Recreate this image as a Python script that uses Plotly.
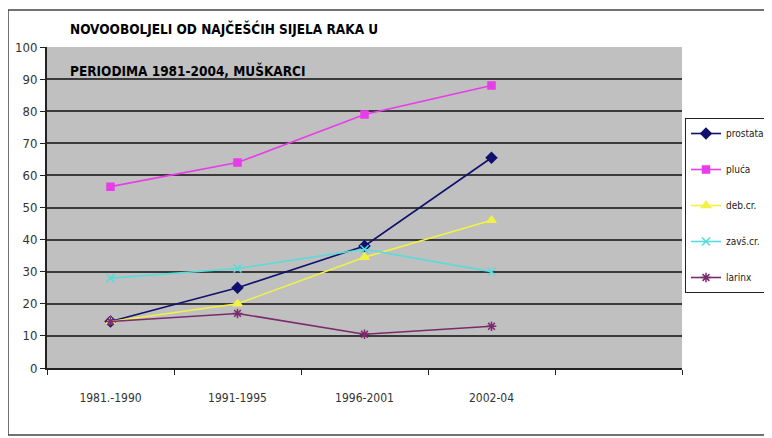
import plotly.graph_objects as go

categories = ["1981.-1990", "1991-1995", "1996-2001", "2002-04"]
axis_slots = ["1981.-1990", "1991-1995", "1996-2001", "2002-04", " "]

series_names = ["prostata", "pluća", "deb.cr.", "zavš.cr.", "larinx"]
prostata = [14.5, 25, 38, 65.5]
pluca = [56.5, 64, 79, 88]
deb_cr = [14.5, 20, 34.5, 46]
zavs_cr = [28, 31, 37, 30]
larinx = [14.5, 17, 10.5, 13]

y_ticks = [0, 10, 20, 30, 40, 50, 60, 70, 80, 90, 100]

title_line1 = "NOVOOBOLJELI OD NAJČEŠĆIH SIJELA RAKA U"
title_line2 = "PERIODIMA 1981-2004, MUŠKARCI"

values = [prostata, pluca, deb_cr, zavs_cr, larinx]
colors = ["#10106e", "#e83ce8", "#f2f245", "#55dcdc", "#7a2a6e"]
symbols = ["diamond", "square", "triangle-up", "x-thin-open", "asterisk-open"]
sizes = [8, 7, 8, 8, 8]

NARROW = "DejaVu Sans Condensed, Liberation Sans, sans-serif"

fig = go.Figure()
for i, (name, vals) in enumerate(zip(series_names, values)):
    fig.add_trace(go.Scatter(
        x=categories, y=vals, name=name, mode="lines+markers",
        legendgroup=name,
        line=dict(color=colors[i], width=1.6),
        marker=dict(symbol=symbols[i], size=sizes[i], color=colors[i],
                    line=dict(color=colors[i], width=1.5)),
    ))

# page has an 8px body margin, so figure coords = page coords - 8
W, H = 764, 430
L, R, T, B = 39, 674, 39, 360

def px(x):
    return (x - L) / (R - L)

def py(y):
    return (B - y) / (B - T)

fig.update_layout(
    width=W, height=H,
    margin=dict(l=L, r=W - R, t=T, b=H - B, pad=0, autoexpand=False),
    paper_bgcolor="white",
    plot_bgcolor="#c0c0c0",
    font=dict(family=NARROW, size=12, color="#222"),
    showlegend=True,
    legend=dict(
        x=px(677), y=py(110), xanchor="left", yanchor="top",
        bgcolor="white", bordercolor="#222", borderwidth=1,
        font=dict(family=NARROW, size=10, color="#222"),
        tracegroupgap=17, itemwidth=30,
    ),
    xaxis=dict(
        type="category", categoryorder="array", categoryarray=axis_slots,
        range=[-0.5, 4.5], tickson="boundaries",
        showgrid=False, ticks="outside", ticklen=5, tickcolor="#222",
        showline=True, linecolor="#222", linewidth=2,
        tickfont=dict(family=NARROW, size=12, color="#333"),
        ticklabelstandoff=18,
        fixedrange=True,
    ),
    yaxis=dict(
        range=[0, 100], tickvals=y_ticks,
        showgrid=True, gridcolor="#3a3a3a", gridwidth=2,
        ticks="outside", ticklen=5, tickcolor="#222",
        showline=True, linecolor="#222", linewidth=2,
        zeroline=False,
        tickfont=dict(family=NARROW, size=13, color="#333"),
        fixedrange=True,
    ),
    annotations=[
        dict(text="<b>" + title_line1 + "</b>", xref="paper", yref="paper",
             x=px(60), y=py(21), xanchor="left", yanchor="middle",
             showarrow=False, font=dict(family=NARROW, size=13.5, color="black")),
        dict(text="<b>" + title_line2 + "</b>", xref="paper", yref="paper",
             x=px(60), y=py(62), xanchor="left", yanchor="middle",
             showarrow=False, font=dict(family=NARROW, size=13.5, color="black")),
    ],
    shapes=[
        dict(type="rect", xref="paper", yref="paper",
             x0=px(0), x1=px(762), y0=py(427), y1=py(2),
             line=dict(color="#444", width=1.5), layer="below"),
    ],
)

fig.write_html("out.html")
